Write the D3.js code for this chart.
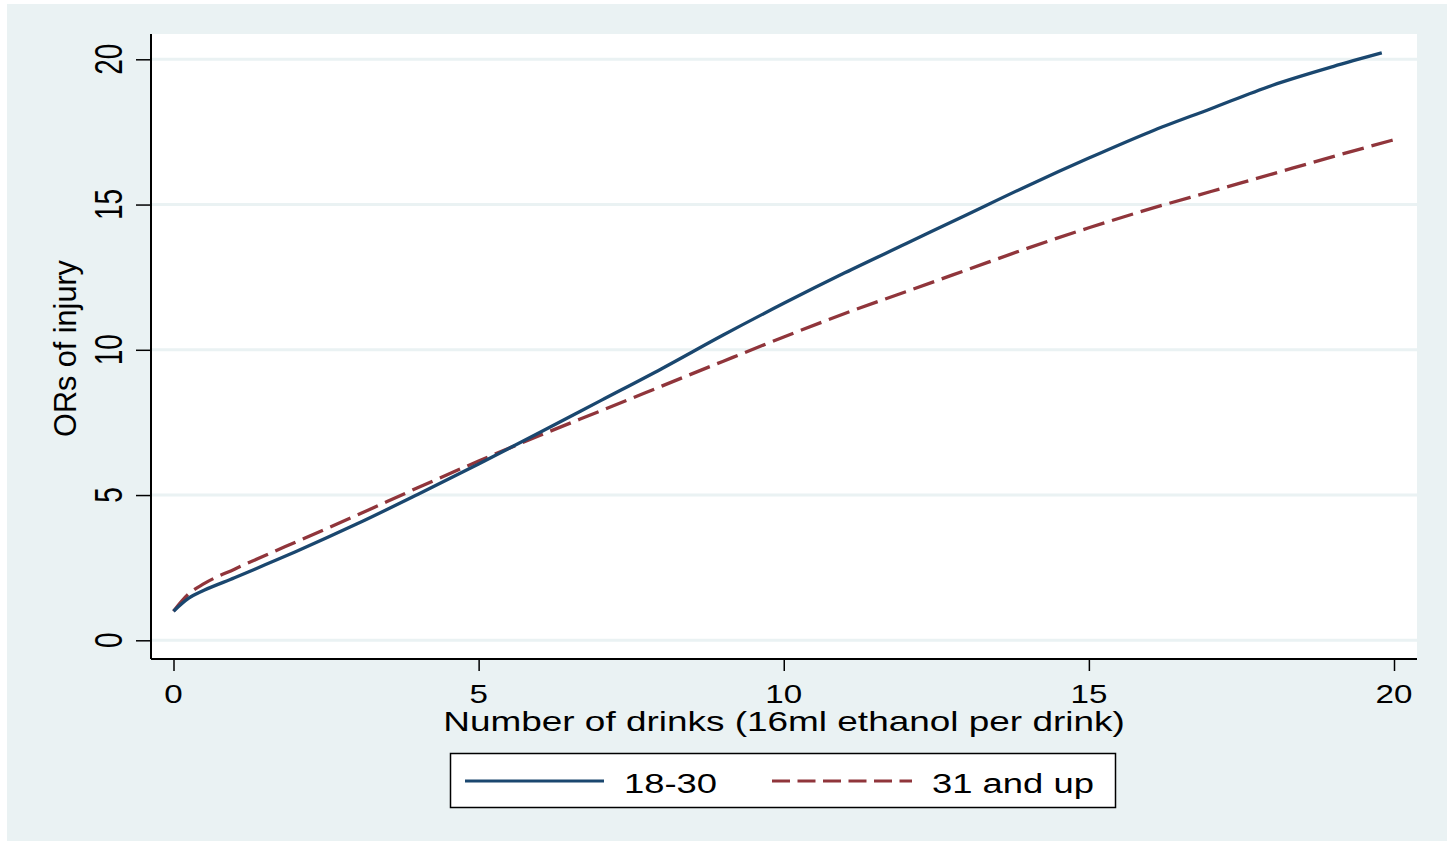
<!DOCTYPE html>
<html>
<head>
<meta charset="utf-8">
<script src="https://cdn.jsdelivr.net/npm/d3@7"></script>
<style>
  body { margin: 0; background: #ffffff; }
  text { font-family: Arial, "Liberation Sans", Helvetica, sans-serif; fill: #000; }
</style>
</head>
<body>
<div id="chart"></div>
<script>
// values
const drinksYoung = [0, 0.25, 0.5, 1, 1.5, 2, 3, 4, 5, 6, 7, 8, 9, 10, 11, 12, 13, 14, 15, 16, 17, 18, 19, 19.8];
const orYoung = [1.0, 1.45, 1.72, 2.15, 2.6, 3.05, 4.0, 5.02, 6.07, 7.15, 8.25, 9.35, 10.5, 11.6, 12.65, 13.65, 14.65, 15.65, 16.6, 17.5, 18.3, 19.1, 19.75, 20.22];

const drinksOld = [0, 0.25, 0.5, 1, 1.5, 2, 3, 4, 5, 6, 7, 8, 9, 10, 11, 12, 13, 14, 15, 16, 17, 18, 19, 20];
const orOld = [1.0, 1.6, 1.95, 2.45, 2.92, 3.38, 4.3, 5.25, 6.17, 7.05, 7.9, 8.75, 9.6, 10.44, 11.25, 12.0, 12.75, 13.5, 14.2, 14.85, 15.45, 16.05, 16.65, 17.23];

const xTicks = [0, 5, 10, 15, 20];
const yTicks = [0, 5, 10, 15, 20];
const seriesNames = ["18-30", "31 and up"];

const w = 1447;
const h = 845;
const bg = "#eaf2f3";
const blue = "#1a476f";
const red = "#90353b";

// plot region
const plotL = 151, plotR = 1417, plotT = 34, plotB = 659;

const svg = d3.select("#chart")
  .append("svg")
  .attr("width", w)
  .attr("height", h);

svg.append("rect")
  .attr("x", 7).attr("y", 4)
  .attr("width", w - 7).attr("height", 837)
  .attr("fill", bg);

svg.append("rect")
  .attr("x", plotL).attr("y", plotT)
  .attr("width", plotR - plotL).attr("height", plotB - plotT)
  .attr("fill", "#fff");

const xScale = d3.scaleLinear().domain([0, 20]).range([173.5, 1394]);
const yScale = d3.scaleLinear().domain([0, 20]).range([640.3, 59.3]);

// gridlines
svg.append("g")
  .selectAll("line")
  .data(yTicks)
  .enter()
  .append("line")
  .attr("x1", plotL).attr("x2", plotR)
  .attr("y1", (d) => yScale(d)).attr("y2", (d) => yScale(d))
  .attr("stroke", bg)
  .attr("stroke-width", 3);

// axes
const xAxis = d3.axisBottom(xScale).tickValues(xTicks).tickSize(12).tickFormat("");
const yAxis = d3.axisLeft(yScale).tickValues(yTicks).tickSize(15).tickFormat("");

const gx = svg.append("g")
  .attr("transform", `translate(0, ${plotB})`)
  .call(xAxis);
gx.select(".domain").attr("d", `M${plotL},0H${plotR}`);

const gy = svg.append("g")
  .attr("transform", `translate(${plotL}, 0)`)
  .call(yAxis);
gy.select(".domain").attr("d", `M0,${plotT}V${plotB}`);

[gx, gy].forEach((g) => {
  g.select(".domain").attr("stroke", "#000").attr("stroke-width", 2);
  g.selectAll(".tick line").attr("stroke", "#000").attr("stroke-width", 1.5);
});

// tick labels (picture is stretched sideways, so text is too)
svg.append("g")
  .selectAll("text")
  .data(xTicks)
  .enter()
  .append("text")
  .attr("transform", (d) => `translate(${xScale(d)}, 703) scale(1.25, 1)`)
  .attr("text-anchor", "middle")
  .style("font-size", "26.5px")
  .text((d) => d);

svg.append("g")
  .selectAll("text")
  .data(yTicks)
  .enter()
  .append("text")
  .attr("transform", (d) => `translate(121.5, ${yScale(d)}) scale(1.38, 1) rotate(-90)`)
  .attr("text-anchor", "middle")
  .style("font-size", "28px")
  .text((d) => d);

// axis titles
svg.append("text")
  .attr("transform", "translate(784, 731) scale(1.32, 1)")
  .attr("text-anchor", "middle")
  .style("font-size", "28px")
  .text("Number of drinks (16ml ethanol per drink)");

svg.append("text")
  .attr("transform", "translate(75.5, 348.5) rotate(-90)")
  .attr("text-anchor", "middle")
  .style("font-size", "30.6px")
  .text("ORs of injury");

// lines
const line = d3.line()
  .x((d) => xScale(d[0]))
  .y((d) => yScale(d[1]))
  .curve(d3.curveMonotoneX);

svg.append("path")
  .datum(drinksOld.map((d, i) => [d, orOld[i]]))
  .attr("d", line)
  .attr("fill", "none")
  .attr("stroke", red)
  .attr("stroke-width", 3.3)
  .attr("stroke-dasharray", "22,8");

svg.append("path")
  .datum(drinksYoung.map((d, i) => [d, orYoung[i]]))
  .attr("d", line)
  .attr("fill", "none")
  .attr("stroke", blue)
  .attr("stroke-width", 3.3);

// legend
svg.append("rect")
  .attr("x", 450.5).attr("y", 753.5)
  .attr("width", 665).attr("height", 54)
  .attr("fill", "#fff")
  .attr("stroke", "#000")
  .attr("stroke-width", 1.5);

const legendY = 781;
svg.append("line")
  .attr("x1", 465).attr("x2", 604)
  .attr("y1", legendY).attr("y2", legendY)
  .attr("stroke", blue).attr("stroke-width", 3);

svg.append("line")
  .attr("x1", 772).attr("x2", 912)
  .attr("y1", legendY).attr("y2", legendY)
  .attr("stroke", red).attr("stroke-width", 3)
  .attr("stroke-dasharray", "18,7.5");

svg.append("text")
  .attr("transform", "translate(624, 793) scale(1.3, 1)")
  .style("font-size", "28px")
  .text(seriesNames[0]);

svg.append("text")
  .attr("transform", "translate(932, 793) scale(1.3, 1)")
  .style("font-size", "28px")
  .text(seriesNames[1]);
</script>
</body>
</html>
